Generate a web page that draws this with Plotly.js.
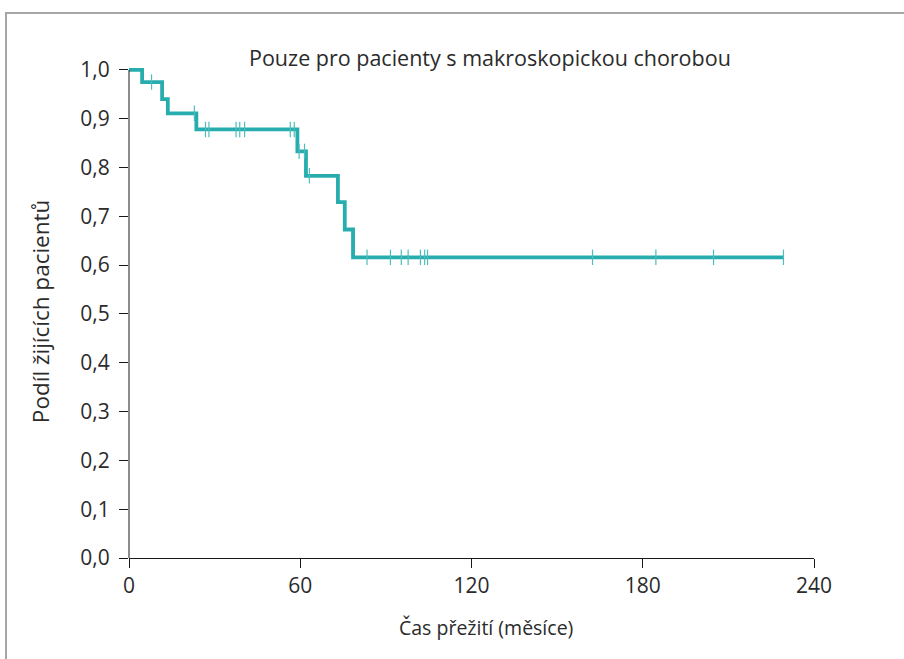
<!DOCTYPE html>
<html>
<head>
<meta charset="utf-8">
<script src="https://cdn.plot.ly/plotly-3.0.1.min.js"></script>
<style>
  html, body { margin: 0; padding: 0; background: #fff; }
  #wrap { position: relative; width: 904px; height: 659px; overflow: hidden; }
  #frame { position: absolute; left: 5px; top: 12px; width: 910px; height: 700px;
           border-top: 2px solid #a6a6a6; border-left: 2px solid #a6a6a6; box-sizing: border-box; pointer-events: none; }
  #chart { position: absolute; left: 0; top: 0; width: 904px; height: 659px; }
</style>
</head>
<body>
<div id="wrap">
  <div id="chart"></div>
  <div id="frame"></div>
</div>
<script>
// Kaplan-Meier steps (months, survival proportion)
const stepTimes    = [0, 4.6, 11.6, 13.6, 23.6, 59.0, 62.0, 73.2, 75.6, 78.5, 229.5];
const stepSurvival = [1.0, 0.975, 0.940, 0.911, 0.878, 0.833, 0.783, 0.729, 0.673, 0.616, 0.616];
// censored observations (months)
const censorTimes = [7.9, 22.9, 26.8, 28.0, 37.5, 38.8, 40.5, 56.5, 57.9, 59.6, 61.5, 63.2,
                     83.4, 91.6, 95.4, 97.8, 102.1, 103.6, 104.6, 162.4, 184.6, 204.8, 229.3];
const xTicks = [0, 60, 120, 180, 240];
const yTicks = [0, 0.1, 0.2, 0.3, 0.4, 0.5, 0.6, 0.7, 0.8, 0.9, 1.0];
const titleText = 'Pouze pro pacienty s makroskopickou chorobou';
const xTitle = 'Čas přežití (měsíce)';
const yTitle = 'Podíl žijících pacientů';

function survivalAt(t) {
  let s = stepSurvival[0];
  for (let i = 0; i < stepTimes.length; i++) {
    if (stepTimes[i] <= t) s = stepSurvival[i];
  }
  return s;
}
const censorSurv = censorTimes.map(survivalAt);

const teal = '#27adad';
const FONT = 'Open Sans, Noto Sans, sans-serif';
const TXT = '#2b2b2b';

const traces = [
  {
    x: stepTimes, y: stepSurvival, type: 'scatter', mode: 'lines',
    line: { shape: 'hv', color: teal, width: 3.8 }, hoverinfo: 'skip'
  },
  {
    x: censorTimes, y: censorSurv, type: 'scatter', mode: 'markers',
    marker: { symbol: 'line-ns', size: 11, color: teal, line: { color: '#4fbdbd', width: 1.2 } },
    cliponaxis: false, hoverinfo: 'skip'
  }
];

const layout = {
  width: 904, height: 659,
  margin: { l: 128.5, r: 90, t: 65, b: 101 },
  paper_bgcolor: 'rgba(0,0,0,0)', plot_bgcolor: 'rgba(0,0,0,0)',
  showlegend: false,
  separators: ',.',
  font: { family: FONT, color: TXT, size: 21 },
  xaxis: {
    range: [0, 240], tickvals: xTicks, ticktext: xTicks.map(String),
    showgrid: false, zeroline: false, showline: true, linecolor: '#1a1a1a', linewidth: 1,
    ticks: 'outside', ticklen: 9, tickwidth: 1, tickcolor: '#1a1a1a',
    tickfont: { family: FONT, size: 21, color: TXT }
  },
  yaxis: {
    range: [0, 1.01], tickvals: yTicks, tickformat: '.1f',
    showgrid: false, zeroline: false, showline: false,
    ticks: 'outside', ticklen: 9, tickwidth: 1, tickcolor: '#1a1a1a',
    ticklabelstandoff: 5,
    tickfont: { family: FONT, size: 21, color: TXT }
  },
  shapes: [
    { type: 'line', xref: 'paper', yref: 'y', x0: 0, x1: 0, y0: 0, y1: 1,
      line: { color: '#1a1a1a', width: 1 } }
  ],
  annotations: [
    { text: titleText, xref: 'paper', yref: 'paper', x: 0.527, y: 1.0, yshift: 8,
      xanchor: 'center', yanchor: 'middle', showarrow: false,
      font: { family: FONT, size: 21.5, color: TXT } },
    { text: xTitle, xref: 'paper', yref: 'paper', x: 0.521, y: 0, yshift: -69,
      xanchor: 'center', yanchor: 'middle', showarrow: false,
      font: { family: FONT, size: 19.5, color: TXT } },
    { text: yTitle, xref: 'paper', yref: 'paper', x: -0.129, y: 0.5, textangle: -90,
      xanchor: 'center', yanchor: 'middle', showarrow: false,
      font: { family: FONT, size: 22.5, color: TXT } }
  ]
};

Plotly.newPlot('chart', traces, layout, { staticPlot: true, displayModeBar: false });
</script>
</body>
</html>
